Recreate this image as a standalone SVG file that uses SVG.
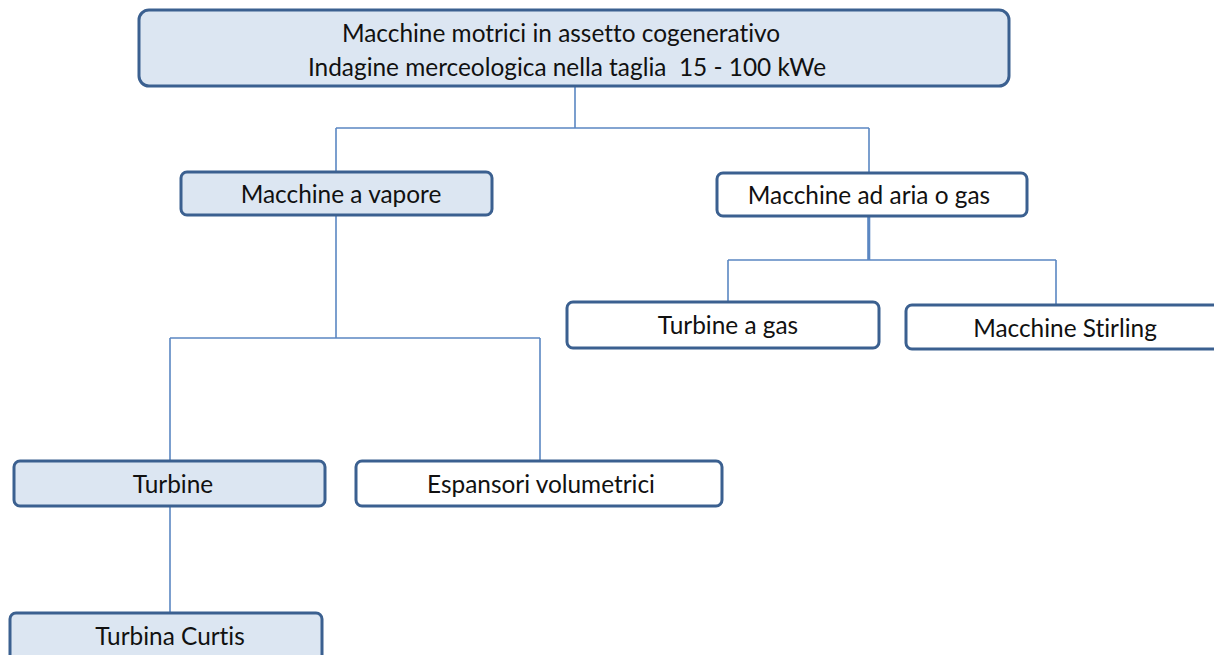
<svg xmlns="http://www.w3.org/2000/svg" width="1214" height="655" viewBox="0 0 1214 655">
<style>
.box{stroke:#3b6090;stroke-width:3}
.f{fill:#dce6f2}
.w{fill:#ffffff}
.t{font-family:Lato,"Liberation Sans",sans-serif;font-size:24.4px;fill:#111;text-anchor:middle;font-variant-ligatures:none}
.c{fill:none;stroke:#5b87c2;stroke-width:1.6}
</style>
<rect width="1214" height="655" fill="#fff"/>
<g id="connectors">
<path class="c" d="M575 86V128M336 128H869M336 128V173M869 128V174"/>
<path class="c" d="M336 215V338M170 338H540M170 338V461M540 338V461"/>
<path class="c" d="M868 216V260M869.5 216V260M728 260H1056M728 260V302M1056 260V305"/>
<path class="c" d="M170 506V613"/>
</g>
<g id="n-root"><rect class="box f" x="139" y="10" width="870" height="76" rx="10"/>
<text class="t" x="561" y="42">Macchine motrici in assetto cogenerativo</text>
<text class="t" x="567" y="76" xml:space="preserve">Indagine merceologica nella taglia  15 - 100 kWe</text></g>
<g id="n-vapore"><rect class="box f" x="181" y="172" width="311" height="43" rx="6"/>
<text class="t" x="341" y="203">Macchine a vapore</text></g>
<g id="n-aria"><rect class="box w" x="717" y="173" width="310" height="43" rx="6"/>
<text class="t" x="869" y="204">Macchine ad aria o gas</text></g>
<g id="n-tgas"><rect class="box w" x="567" y="302" width="312" height="46" rx="6"/>
<text class="t" x="728" y="334">Turbine a gas</text></g>
<g id="n-stirling"><rect class="box w" x="906" y="305" width="316" height="44" rx="6"/>
<text class="t" x="1065" y="337">Macchine Stirling</text></g>
<g id="n-turbine"><rect class="box f" x="14" y="461" width="311" height="45" rx="6"/>
<text class="t" x="173" y="493">Turbine</text></g>
<g id="n-espansori"><rect class="box w" x="356" y="461" width="366" height="45" rx="6"/>
<text class="t" x="541" y="493">Espansori volumetrici</text></g>
<g id="n-curtis"><rect class="box f" x="10" y="613" width="312" height="50" rx="6"/>
<text class="t" x="170" y="645">Turbina Curtis</text></g>
</svg>
